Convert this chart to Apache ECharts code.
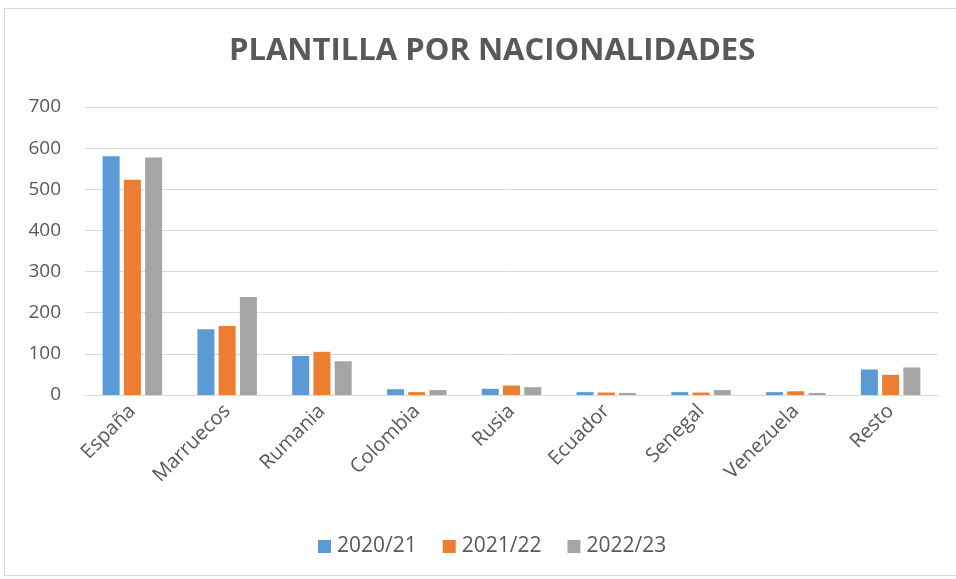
<!DOCTYPE html>
<html>
<head>
<meta charset="utf-8">
<script src="https://cdn.jsdelivr.net/npm/echarts@6/dist/echarts.min.js"></script>
<style>
    html, body { margin: 0; padding: 0; background: #fff; }
    #frame {
        position: absolute; left: 4px; top: 8px; width: 960px; height: 568px;
        border: 1px solid #d9d9d9; box-sizing: border-box;
    }
    #chart { position: absolute; left: 0; top: 0; width: 956px; height: 579px; }
</style>
</head>
<body>
<div id="frame"></div>
<div id="chart"></div>
<script>
const categories = ['España', 'Marruecos', 'Rumania', 'Colombia', 'Rusia', 'Ecuador', 'Senegal', 'Venezuela', 'Resto'];
const seriesNames = ['2020/21', '2021/22', '2022/23'];
const values2020 = [580, 160, 95, 14, 15, 7, 7, 7, 62];
const values2021 = [523, 168, 105, 7, 23, 6, 6, 9, 49];
const values2022 = [577, 238, 82, 12, 19, 5, 12, 5, 67];
const colors = ['#5b9bd5', '#ed7d31', '#a5a5a5'];

document.addEventListener('DOMContentLoaded', () => {
    const chart = echarts.init(document.getElementById('chart'));
    const font = "'Open Sans', sans-serif";

    const option = {
        animation: false,
        title: {
            text: 'PLANTILLA POR NACIONALIDADES',
            left: 224,
            top: 31,
            textStyle: { color: '#595959', fontSize: 31, fontWeight: 'bold', fontFamily: font }
        },
        legend: {
            data: seriesNames,
            left: 313,
            bottom: 17,
            itemWidth: 13,
            itemHeight: 13,
            itemGap: 26,
            icon: 'rect',
            textStyle: { color: '#595959', fontSize: 21, fontFamily: font, padding: [0, 0, 0, 1] }
        },
        grid: { left: 85, right: 18, top: 107, bottom: 184 },
        xAxis: {
            type: 'category',
            data: categories,
            axisLine: { lineStyle: { color: '#d9d9d9', width: 1 } },
            axisTick: { show: false },
            axisLabel: { rotate: 45, color: '#595959', fontSize: 20, fontFamily: font, margin: 13 }
        },
        yAxis: {
            type: 'value',
            min: 0,
            max: 700,
            interval: 100,
            axisLine: { show: false },
            axisTick: { show: false },
            splitLine: { lineStyle: { color: '#d9d9d9', width: 1 } },
            axisLabel: { color: '#595959', fontSize: 19, fontFamily: font, margin: 24 }
        },
        series: [values2020, values2021, values2022].map((vals, i) => ({
            name: seriesNames[i],
            type: 'bar',
            data: vals,
            barWidth: 17,
            barGap: '25%',
            itemStyle: { color: colors[i] }
        }))
    };

    chart.setOption(option);
});
</script>
</body>
</html>
